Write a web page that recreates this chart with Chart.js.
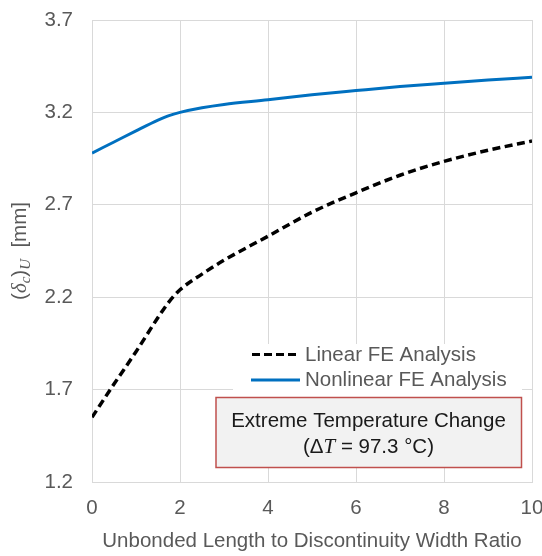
<!DOCTYPE html>
<html>
<head>
<meta charset="utf-8">
<script src="https://cdn.jsdelivr.net/npm/chart.js@4/dist/chart.umd.min.js"></script>
<style>
  html, body { margin: 0; padding: 0; background: #ffffff; }
  #wrap { width: 542px; height: 556px; }
</style>
</head>
<body>
<div id="wrap"><canvas id="c" width="542" height="556"></canvas></div>
<script>
// Unbonded length to discontinuity width ratio (x) and displacement (mm)
const linearRatio = [0, 0.5, 1, 1.5, 1.75, 2, 2.5, 3, 4, 5, 6, 7, 8, 9, 10];
const linearDisp  = [1.55, 1.73, 1.905, 2.09, 2.175, 2.24, 2.325, 2.40, 2.53, 2.66, 2.765, 2.86, 2.935, 2.995, 3.045];

const nonlinearRatio = [0, 0.5, 1, 1.5, 1.75, 2, 2.5, 3, 4, 5, 6, 7, 8, 9, 10];
const nonlinearDisp  = [2.98, 3.04, 3.10, 3.158, 3.183, 3.20, 3.225, 3.243, 3.268, 3.295, 3.318, 3.34, 3.358, 3.375, 3.39];

const xTicks = [0, 2, 4, 6, 8, 10];
const yTicks = [1.2, 1.7, 2.2, 2.7, 3.2, 3.7];

const seriesNames = ['Linear FE Analysis', 'Nonlinear FE Analysis'];
const xTitle = 'Unbonded Length to Discontinuity Width Ratio';
const noteLines = ['Extreme Temperature Change', '97.3 °C'];

const SANS = '"Liberation Sans", Arial, sans-serif';
const SERIF = '"Liberation Serif", "Times New Roman", serif';
const GREY = '#595959';
const BLUE = '#0070c0';
const FS = 20.5;

function pts(xs, ys) { return xs.map((x, i) => ({ x: x, y: ys[i] })); }

// Draws axis titles, the legend and the annotation box
const decor = {
  id: 'decor',
  afterDraw(chart) {
    const ctx = chart.ctx;
    const area = chart.chartArea;
    ctx.save();

    // x-axis title
    ctx.fillStyle = GREY;
    ctx.font = FS + 'px ' + SANS;
    ctx.textAlign = 'center';
    ctx.textBaseline = 'middle';
    ctx.fillText(xTitle, (area.left + area.right) / 2, 541);

    // y-axis title: (δ_c)_U [mm]
    ctx.save();
    ctx.translate(19, (area.top + area.bottom) / 2);
    ctx.rotate(-Math.PI / 2);
    ctx.textAlign = 'left';
    ctx.textBaseline = 'alphabetic';
    const parts = [
      { t: '(', f: FS + 'px ' + SANS, dy: 0 },
      { t: 'δ', f: 'italic 21px ' + SERIF, dy: 0 },
      { t: 'c', f: 'italic 15px ' + SERIF, dy: 4 },
      { t: ')', f: FS + 'px ' + SANS, dy: 0 },
      { t: 'U', f: 'italic 15px ' + SERIF, dy: 4 },
      { t: '  [mm]', f: FS + 'px ' + SANS, dy: 0 }
    ];
    let total = 0;
    parts.forEach(p => { ctx.font = p.f; p.w = ctx.measureText(p.t).width; total += p.w; });
    let px = -total / 2;
    parts.forEach(p => {
      ctx.font = p.f;
      ctx.fillText(p.t, px, 7 + p.dy);
      px += p.w;
    });
    ctx.restore();

    // legend background
    ctx.fillStyle = '#ffffff';
    ctx.fillRect(233, 344, 289, 54);

    // legend entries
    ctx.lineWidth = 3;
    ctx.strokeStyle = '#000000';
    ctx.setLineDash([8, 4]);
    ctx.beginPath();
    ctx.moveTo(252, 354.5);
    ctx.lineTo(297, 354.5);
    ctx.stroke();
    ctx.setLineDash([]);
    ctx.strokeStyle = BLUE;
    ctx.beginPath();
    ctx.moveTo(251, 380);
    ctx.lineTo(300, 380);
    ctx.stroke();

    ctx.fillStyle = GREY;
    ctx.font = FS + 'px ' + SANS;
    ctx.textAlign = 'left';
    ctx.textBaseline = 'middle';
    ctx.fillText(seriesNames[0], 305, 355);
    ctx.fillText(seriesNames[1], 305, 380);

    // annotation box
    ctx.fillStyle = '#f2f2f2';
    ctx.fillRect(216, 397.5, 305.5, 70);
    ctx.strokeStyle = '#c0504d';
    ctx.lineWidth = 1.5;
    ctx.strokeRect(216, 397.5, 305.5, 70);

    const cx = 368.5;
    ctx.fillStyle = '#1a1a1a';
    ctx.font = FS + 'px ' + SANS;
    ctx.textAlign = 'center';
    ctx.fillText(noteLines[0], cx, 421);

    // (ΔT = 97.3 °C)
    const segs = [
      { t: '(Δ', f: FS + 'px ' + SANS },
      { t: 'T', f: 'italic 21px ' + SERIF },
      { t: ' = ' + noteLines[1] + ')', f: FS + 'px ' + SANS }
    ];
    let w2 = 0;
    segs.forEach(s => { ctx.font = s.f; s.w = ctx.measureText(s.t).width; w2 += s.w; });
    let sx = cx - w2 / 2;
    ctx.textAlign = 'left';
    segs.forEach(s => { ctx.font = s.f; ctx.fillText(s.t, sx, 447); sx += s.w; });

    ctx.restore();
  }
};

new Chart(document.getElementById('c'), {
  type: 'line',
  data: {
    datasets: [
      {
        label: seriesNames[0],
        data: pts(linearRatio, linearDisp),
        borderColor: '#000000',
        borderWidth: 3.5,
        borderDash: [8, 4.5],
        pointRadius: 0,
        cubicInterpolationMode: 'monotone',
        fill: false
      },
      {
        label: seriesNames[1],
        data: pts(nonlinearRatio, nonlinearDisp),
        borderColor: BLUE,
        borderWidth: 3,
        pointRadius: 0,
        cubicInterpolationMode: 'monotone',
        fill: false
      }
    ]
  },
  options: {
    responsive: false,
    animation: false,
    layout: { padding: { top: 20, right: 10, left: 0, bottom: 0 } },
    plugins: { legend: { display: false }, tooltip: { enabled: false } },
    scales: {
      x: {
        type: 'linear',
        min: 0,
        max: 10,
        afterBuildTicks(scale) { scale.ticks = xTicks.map(v => ({ value: v })); },
        afterFit(scale) { scale.height = 74; scale.paddingLeft = 0; scale.paddingRight = 0; },
        grid: { color: '#d9d9d9', lineWidth: 1, drawTicks: false },
        border: { color: '#d9d9d9' },
        ticks: { color: GREY, font: { family: SANS, size: FS }, padding: 14, maxRotation: 0 }
      },
      y: {
        type: 'linear',
        min: 1.2,
        max: 3.7,
        afterBuildTicks(scale) { scale.ticks = yTicks.map(v => ({ value: v })); },
        afterFit(scale) { scale.width = 92; scale.paddingTop = 0; scale.paddingBottom = 0; },
        grid: { color: '#d9d9d9', lineWidth: 1, drawTicks: false },
        border: { color: '#d9d9d9' },
        ticks: {
          color: GREY,
          font: { family: SANS, size: FS },
          padding: 19,
          callback: v => Number(v).toFixed(1)
        }
      }
    }
  },
  plugins: [decor]
});
</script>
</body>
</html>
